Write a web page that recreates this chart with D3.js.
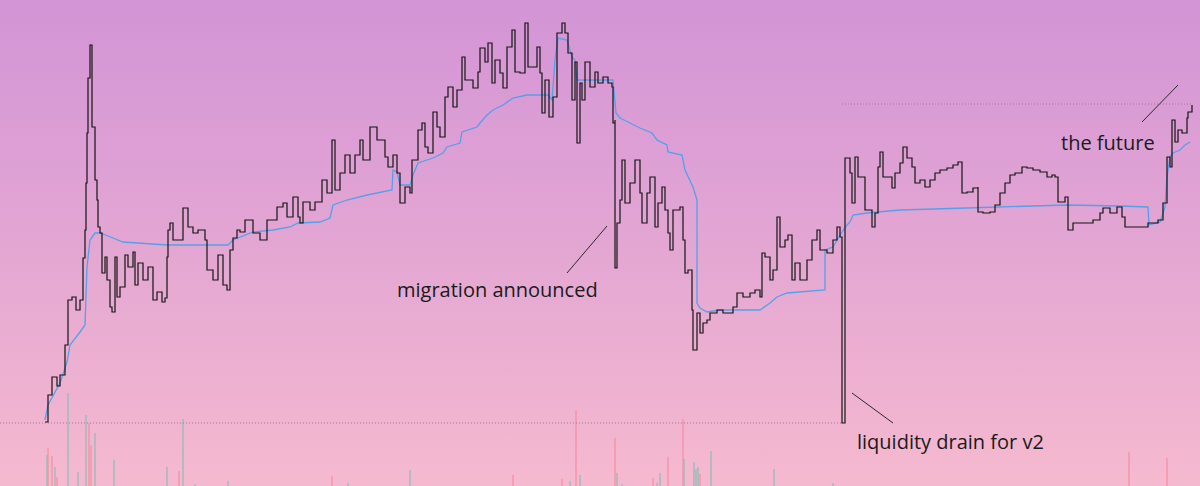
<!DOCTYPE html>
<html>
<head>
<meta charset="utf-8">
<script src="https://cdn.jsdelivr.net/npm/d3@7"></script>
<style>
  html, body { margin: 0; padding: 0; overflow: hidden; }
  svg { display: block; }
</style>
</head>
<body>
<svg></svg>
<script>
// hours since launch / price (arbitrary units)
const priceHours = [0,3,7,12,15,20,23,23,27,31,35,38,40,41,42,43,45,47,50,52,53,55,57,60,62,65,67,70,72,75,80,83,88,90,93,98,103,108,112,117,120,122,123,125,128,138,143,148,153,160,162,168,173,178,182,185,188,192,195,200,208,215,222,232,238,242,248,253,255,258,265,270,277,282,287,290,295,300,305,310,315,318,325,332,340,343,348,352,355,360,365,367,373,377,380,383,388,392,395,400,403,408,412,417,420,423,428,433,435,440,443,447,450,455,458,462,467,470,475,480,483,488,492,495,497,500,504,508,512,517,520,523,527,530,532,535,537,540,545,550,553,558,563,567,568,570,570,572,575,577,580,585,588,590,595,597,602,605,610,613,617,620,623,625,628,635,638,640,643,647,648,652,655,658,662,665,672,678,688,692,698,705,710,715,717,720,725,728,732,735,740,743,747,750,755,762,767,772,775,782,788,792,795,797,797,800,800,805,807,810,813,818,820,827,830,833,835,838,843,847,850,855,858,862,867,870,875,880,885,890,895,902,908,913,917,922,928,933,933,938,945,950,955,960,965,970,977,982,988,995,1002,1007,1010,1013,1020,1023,1028,1038,1048,1055,1058,1065,1072,1077,1080,1087,1095,1103,1108,1113,1118,1122,1125,1127,1130,1133,1137,1142,1143,1147];
const priceValues = [2,29,47,38,49,79,97,124,127,114,124,166,194,241,291,346,379,297,244,224,197,191,151,167,144,117,112,167,127,137,169,157,172,139,161,144,157,124,132,122,126,167,194,201,184,216,197,191,194,184,154,144,169,139,134,174,186,194,192,204,191,184,204,217,221,207,227,207,201,222,214,222,244,231,284,234,251,269,251,269,284,264,297,284,267,257,269,251,221,237,231,264,294,301,277,271,312,297,287,327,337,317,334,367,344,344,336,352,376,362,381,341,364,351,336,377,394,352,351,401,357,357,377,351,311,344,307,327,391,401,391,371,324,362,281,341,324,362,337,352,341,347,341,337,301,304,156,201,224,264,221,241,241,264,231,201,231,247,197,221,237,214,191,174,214,217,184,151,154,114,74,111,91,101,104,111,114,111,117,131,127,131,134,127,171,167,144,154,207,177,184,189,144,161,144,164,184,194,174,171,184,197,187,186,1,1,266,251,221,267,247,247,214,197,211,257,272,247,247,236,251,261,277,266,257,241,244,237,244,251,254,256,259,262,231,232,236,237,212,211,212,219,231,241,249,251,257,256,254,252,247,249,247,222,227,194,201,201,204,211,216,211,217,207,197,197,197,201,201,204,221,267,257,304,282,294,291,306,312,319];

// moving average of price
const maHours = [0,3,15,22,25,35,40,42,45,50,55,68,78,122,155,183,188,208,228,245,253,275,285,288,302,322,347,348,352,355,365,368,373,388,398,402,415,417,432,435,442,448,458,468,482,503,507,510,513,522,527,530,532,568,571,575,585,595,607,612,622,623,637,640,648,652,652,655,662,675,715,725,732,742,780,780,788,795,802,805,808,822,855,922,988,1022,1075,1103,1104,1115,1120,1122,1125,1128,1135,1140,1145];
const maValues = [4,19,41,62,79,92,99,157,184,191,191,186,182,179,179,179,184,192,194,197,201,202,206,219,224,229,234,254,252,239,239,249,261,266,271,277,281,292,297,301,309,314,319,326,329,329,324,364,386,384,367,364,344,344,311,306,301,296,291,284,279,272,269,254,237,224,121,116,112,114,114,121,127,131,134,174,177,189,199,202,209,211,214,216,218,219,218,217,199,202,217,247,267,271,274,279,282];

// volume bars: hour, size, side
const volumeHours = [2,3,7,10,12,23,33,41,44,46,50,69,122,134,138,150,183,287,303,365,468,517,525,531,535,570,572,577,608,612,615,623,638,639,649,651,653,655,666,729,788,1084,1122];
const volumeValues = [31,38,30,19,9,93,14,71,63,41,53,26,19,15,67,2,5,10,3,16,11,7,5,76,11,48,13,2,8,3,13,29,67,27,24,17,19,12,35,17,3,34,28];
const volumeSide = ['b','s','s','b','s','b','b','b','s','s','b','b','b','s','b','b','b','s','b','b','s','s','b','s','b','s','b','b','s','b','b','s','s','b','b','b','b','s','b','b','b','s','s'];

// reference price levels (launch, latest)
const levelValues = [1, 320];
const levelHours = [[0, 797], [797, 1147]];

const annotations = ['migration announced', 'liquidity drain for v2', 'the future'];

const width = 1200;
const height = 486;

const svg = d3.select('svg')
  .attr('width', width)
  .attr('height', height);

const defs = svg.append('defs');
const grad = defs.append('linearGradient')
  .attr('id', 'bg')
  .attr('x1', 0).attr('y1', 0)
  .attr('x2', 0).attr('y2', 1);
grad.append('stop').attr('offset', '0%').attr('stop-color', '#d394d6');
grad.append('stop').attr('offset', '50%').attr('stop-color', '#e3a6d3');
grad.append('stop').attr('offset', '100%').attr('stop-color', '#f5b9cf');

svg.append('rect')
  .attr('width', width)
  .attr('height', height)
  .attr('fill', 'url(#bg)');

const xScale = d3.scaleLinear()
  .domain([0, 1147])
  .range([45, 1192]);

const yScale = d3.scaleLinear()
  .domain([0, 400])
  .range([424, 24]);

const volScale = d3.scaleLinear()
  .domain([0, 100])
  .range([height, height - 100]);

// volume
svg.append('g')
  .selectAll('rect')
  .data(volumeHours.map((h, i) => ({ h, v: volumeValues[i], side: volumeSide[i] })))
  .enter()
  .append('rect')
  .attr('x', d => xScale(d.h) - 0.75)
  .attr('width', 1.5)
  .attr('y', d => volScale(d.v))
  .attr('height', d => volScale(0) - volScale(d.v))
  .attr('fill', d => d.side === 'b' ? '#8fbdb6' : '#f78fa5')
  .attr('opacity', 0.85);

// dotted price levels
svg.append('g')
  .selectAll('line')
  .data(levelValues)
  .enter()
  .append('line')
  .attr('x1', (d, i) => i === 0 ? 0 : xScale(levelHours[i][0]))
  .attr('x2', (d, i) => xScale(levelHours[i][1]))
  .attr('y1', d => yScale(d))
  .attr('y2', d => yScale(d))
  .attr('stroke', '#9c7a92')
  .attr('stroke-width', 1)
  .attr('stroke-dasharray', '1,2');

// moving average
const maLine = d3.line()
  .x(d => xScale(d[0]))
  .y(d => yScale(d[1]));

svg.append('path')
  .datum(maHours.map((h, i) => [h, maValues[i]]))
  .attr('d', maLine)
  .attr('fill', 'none')
  .attr('stroke', '#55a0e8')
  .attr('stroke-width', 1.3);

// price
const priceLine = d3.line()
  .curve(d3.curveStepAfter)
  .x(d => xScale(d[0]))
  .y(d => yScale(d[1]));

svg.append('path')
  .datum(priceHours.map((h, i) => [h, priceValues[i]]))
  .attr('d', priceLine)
  .attr('fill', 'none')
  .attr('stroke', '#141414')
  .attr('stroke-width', 1.2);

// annotations
const notes = [
  { text: annotations[0], tx: 352, ty: 127, from: [522, 151], to: [562, 198] },
  { text: annotations[1], tx: 812, ty: -25, from: [807, 31], to: [848, 1] },
  { text: annotations[2], tx: 1016, ty: 274, from: [1097, 302], to: [1133, 339] }
];

const ann = svg.append('g');

ann.selectAll('line')
  .data(notes)
  .enter()
  .append('line')
  .attr('x1', d => xScale(d.from[0]))
  .attr('y1', d => yScale(d.from[1]))
  .attr('x2', d => xScale(d.to[0]))
  .attr('y2', d => yScale(d.to[1]))
  .attr('stroke', '#2a2a2a')
  .attr('stroke-width', 1);

ann.selectAll('text')
  .data(notes)
  .enter()
  .append('text')
  .attr('x', d => xScale(d.tx))
  .attr('y', d => yScale(d.ty))
  .attr('font-family', "'Open Sans', sans-serif")
  .attr('font-size', 20)
  .attr('fill', '#1a1a1a')
  .text(d => d.text);
</script>
</body>
</html>
